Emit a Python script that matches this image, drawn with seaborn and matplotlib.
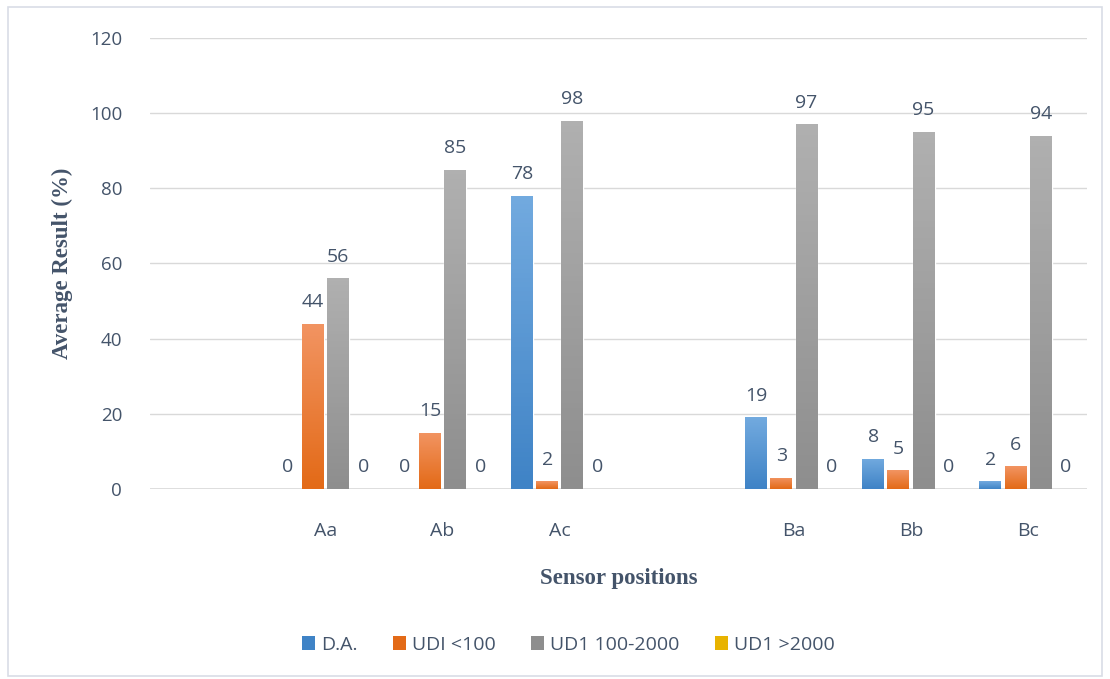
import numpy as np
import pandas as pd
import seaborn as sns
import matplotlib.pyplot as plt
from matplotlib.patches import Rectangle, Patch
from matplotlib.colors import LinearSegmentedColormap

# data (blank slots are the gaps Excel left in the axis)
positions = ["", "Aa", "Ab", "Ac", " ", "Ba", "Bb", "Bc"]
series = ["D.A.", "UDI <100", "UD1 100-2000", "UD1 >2000"]
da = [np.nan, 0, 0, 78, np.nan, 19, 8, 2]
udi_lt100 = [np.nan, 44, 15, 2, np.nan, 3, 5, 6]
ud1_mid = [np.nan, 56, 85, 98, np.nan, 97, 95, 94]
ud1_gt2000 = [np.nan, 0, 0, 0, np.nan, 0, 0, 0]

# gradient top / bottom colours for each series
grad = {
    "D.A.": ("#72aadf", "#3f83c6"),
    "UDI <100": ("#f29462", "#e36a17"),
    "UD1 100-2000": ("#b0b0b0", "#8e8e8e"),
    "UD1 >2000": ("#ffcd3c", "#e8b300"),
}
text_col = "#44546A"

df = pd.DataFrame({
    "pos": positions * 4,
    "series": np.repeat(series, len(positions)),
    "value": da + udi_lt100 + ud1_mid + ud1_gt2000,
})

sns.set_style("white")
plt.rcParams["font.family"] = ["Open Sans", "DejaVu Sans"]

fig = plt.figure(figsize=(11.1, 6.79), dpi=100)
ax = fig.add_axes([0.135, 0.28, 0.844, 0.664])

palette = {s: grad[s][1] for s in series}
sns.barplot(data=df, x="pos", y="value", hue="series", order=positions,
            hue_order=series, palette=palette, saturation=1, width=0.86,
            gap=0.13, ax=ax, legend=False)

ax.yaxis.grid(True, color="#d9d9d9", linewidth=1)
ax.set_axisbelow(True)
sns.despine(ax=ax, left=True, bottom=True)
ax.axhline(0, color="#d9d9d9", linewidth=1.2, zorder=1)
ax.tick_params(axis="both", length=0, labelcolor=text_col)
ax.tick_params(axis="y", pad=20, labelsize=13.5)
ax.tick_params(axis="x", pad=24, labelsize=14)

# gradient fill + value labels (NaN slots are dropped by seaborn)
for cont, s in zip(ax.containers, series):
    top, bot = grad[s]
    cmap = LinearSegmentedColormap.from_list(s, [bot, top])
    for bar in cont:
        x0, w, h = bar.get_x(), bar.get_width(), bar.get_height()
        if h > 0:
            bar.set_facecolor("none")
            im = ax.imshow(np.linspace(0, 1, 64).reshape(-1, 1), cmap=cmap,
                           origin="lower", aspect="auto",
                           extent=(x0, x0 + w, 0, h), zorder=2)
            im.set_clip_path(bar)
    ax.bar_label(cont, fmt="%.0f", padding=9, fontsize=14, color=text_col)

ax.set_xlim(-0.5, len(positions) - 0.5)
ax.set_ylim(0, 120)
ax.set_yticks(range(0, 121, 20))

ax.set_ylabel("Average Result (%)", family="Liberation Serif", fontweight="bold",
              fontsize=16.5, color=text_col, labelpad=12)
ax.set_xlabel("Sensor positions", family="Liberation Serif", fontweight="bold",
              fontsize=16.5, color=text_col, labelpad=20)

handles = [Patch(facecolor=grad[s][1], edgecolor="none") for s in series]
fig.legend(handles, series, loc="center", bbox_to_anchor=(0.512, 0.05), ncol=4,
           frameon=False, fontsize=14, labelcolor=text_col, handlelength=0.7,
           handleheight=0.7, handletextpad=0.3, columnspacing=1.8)

fig.add_artist(Rectangle((0.007, 0.004), 0.986, 0.986, transform=fig.transFigure,
                         fill=False, edgecolor="#d9dde6", linewidth=1.2))

fig.savefig("out.png", dpi=100)
